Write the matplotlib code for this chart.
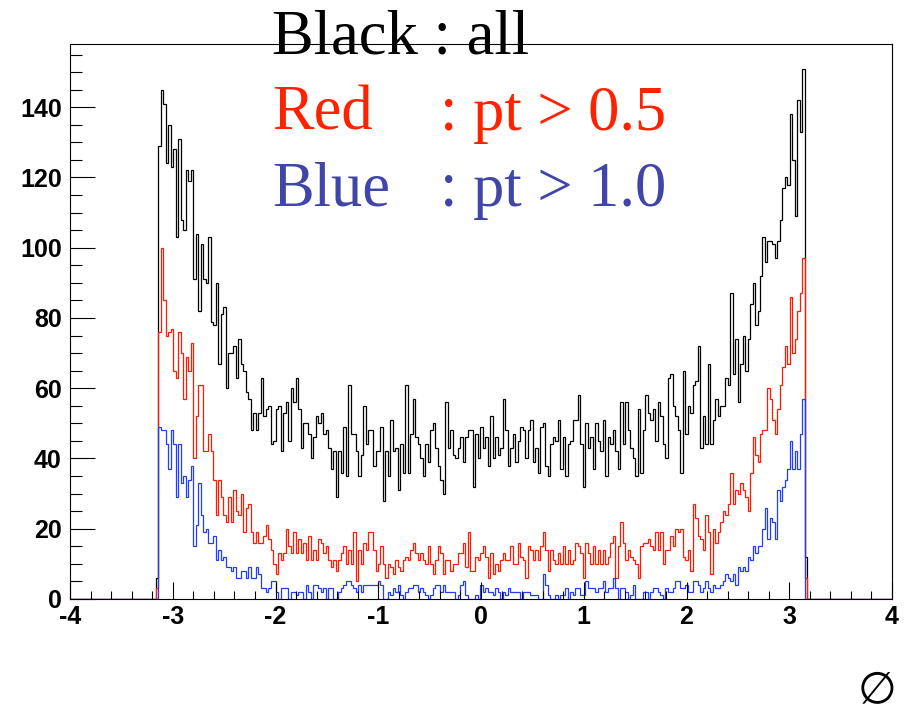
import matplotlib
matplotlib.use("Agg")
import matplotlib.pyplot as plt
import numpy as np
from matplotlib.ticker import MultipleLocator

# phi range that holds entries (outer edges of first/last filled bin)
phi_lo, phi_hi = -3.165, 3.177

# counts per bin (left to right)
black_counts = [
    6,
    129, 145, 141, 124, 135, 123, 128, 103, 131, 108, 105, 122, 119, 122, 91, 104, 82, 101, 91, 90,
    103, 79, 78, 90, 67, 81, 83, 60, 70, 70, 72, 63, 74, 67, 65, 59, 57, 48, 53, 48, 53,
    63, 52, 54, 55, 44, 45, 54, 55, 42, 53, 56, 45, 60, 56, 63, 54, 43, 50, 50, 47, 40, 46, 52, 50, 53,
    47, 48, 43, 37, 42, 29, 42, 36, 49, 35, 61, 47, 47, 42, 35, 41, 55,
    44, 48, 48, 38, 42, 42, 49, 28, 42, 35, 51, 42, 43, 31, 44, 36, 61, 36, 47, 57, 46, 44, 40, 35, 44,
    39, 48, 50, 43, 38, 34, 30, 56, 43, 48, 41, 40, 43, 46, 39, 46, 48,
    48, 32, 47, 40, 49, 43, 46, 38, 52, 40, 46, 41, 43, 57, 48, 38, 43, 47, 39, 45, 49, 48, 40, 48, 51,
    39, 43, 36, 49, 50, 38, 35, 44, 46, 45, 51, 37, 46, 35, 44, 45, 51,
    51, 58, 44, 32, 50, 43, 46, 37, 50, 45, 42, 51, 35, 46, 44, 48, 42, 37, 56, 44, 56, 48, 43, 40, 35,
    54, 36, 48, 58, 53, 51, 54, 45, 56, 52, 44, 40, 63, 64, 55, 52, 48,
    36, 65, 47, 55, 53, 61, 62, 72, 43, 52, 44, 67, 44, 51, 57, 52, 55, 55, 63, 61, 87, 64, 74, 56, 67,
    75, 65, 74, 84, 90, 78, 82, 92, 103, 96, 102, 102, 101, 97, 102, 108, 117, 120, 118, 138, 125, 109,
    142, 133, 151,
    12,
]

red_counts = [
    3,
    76, 100, 85, 75, 76, 77, 65, 63, 76, 70, 57, 69, 65, 73, 40, 52, 61, 61, 42, 42,
    47, 42, 34, 24, 34, 29, 24, 22, 29, 22, 31, 25, 24, 30, 19, 26, 27, 19, 16, 19, 16,
    16, 18, 21, 17, 14, 10, 7, 13, 11, 13, 20, 15, 13, 19, 13, 17, 13, 16, 11, 18, 11, 14, 11, 17, 16,
    13, 15, 11, 9, 11, 8, 11, 13, 15, 10, 14, 10, 19, 5, 14, 10, 16,
    14, 19, 19, 14, 8, 10, 15, 10, 6, 10, 9, 7, 11, 9, 8, 11, 12, 11, 14, 16, 13, 11, 13, 11, 10,
    15, 10, 7, 11, 15, 13, 7, 11, 11, 8, 10, 10, 13, 13, 16, 9, 19,
    8, 8, 12, 11, 13, 15, 12, 6, 13, 7, 10, 8, 11, 13, 11, 11, 15, 10, 10, 16, 12, 11, 6, 15, 14,
    11, 14, 11, 15, 19, 14, 8, 14, 11, 10, 13, 10, 15, 10, 14, 10, 11,
    16, 15, 13, 6, 16, 13, 10, 15, 10, 14, 10, 14, 10, 12, 16, 18, 6, 15, 22, 16, 11, 14, 12, 11, 10,
    6, 15, 16, 16, 17, 15, 14, 19, 14, 19, 10, 14, 14, 18, 15, 20, 19,
    20, 12, 11, 14, 8, 27, 23, 18, 17, 14, 24, 19, 7, 20, 16, 19, 22, 25, 24, 27, 36, 27, 31, 30, 33,
    31, 29, 25, 36, 46, 41, 39, 47, 48, 48, 60, 57, 51, 47, 54, 61, 66, 72, 67, 86, 70, 74, 82, 87, 97,
    6,
]

blue_counts = [
    0,
    49, 48, 48, 44, 37, 48, 44, 29, 44, 33, 35, 29, 34, 38, 15, 21, 33, 24, 19, 20,
    16, 16, 18, 11, 14, 11, 12, 9, 9, 8, 9, 6, 6, 8, 8, 6, 9, 6, 6, 9, 7,
    3, 3, 2, 3, 5, 5, 2, 0, 3, 3, 3, 0, 2, 2, 1, 2, 2, 0, 4, 2, 0, 4, 4, 3, 2,
    3, 0, 3, 3, 0, 0, 2, 3, 4, 5, 5, 4, 3, 2, 4, 2, 4,
    4, 4, 4, 4, 4, 5, 4, 0, 0, 2, 1, 3, 2, 4, 1, 0, 2, 3, 3, 4, 4, 2, 3, 2, 1,
    0, 1, 3, 4, 4, 2, 4, 2, 2, 2, 2, 0, 1, 4, 5, 1, 0,
    0, 0, 1, 0, 4, 2, 3, 2, 2, 1, 3, 2, 0, 2, 1, 3, 2, 2, 2, 2, 0, 2, 2, 2, 1,
    1, 1, 0, 0, 7, 4, 1, 0, 0, 1, 0, 1, 1, 3, 0, 2, 1,
    3, 3, 1, 1, 5, 3, 3, 3, 2, 3, 3, 5, 2, 3, 3, 6, 3, 0, 3, 3, 2, 0, 1, 4, 0,
    0, 0, 2, 2, 0, 2, 3, 3, 2, 1, 0, 3, 2, 2, 3, 5, 5,
    3, 3, 4, 2, 2, 5, 5, 4, 2, 3, 5, 3, 2, 4, 3, 3, 4, 5, 7, 6, 5, 7, 4, 9, 8,
    9, 8, 12, 11, 15, 13, 15, 15, 20, 26, 17, 23, 22, 17, 31, 28, 32, 34, 37, 45, 37, 42, 37, 47, 57,
    0,
]

labels = [("Black", ": all"), ("Red", ": pt > 0.5"), ("Blue", ": pt > 1.0")]

plt.rcParams["axes.unicode_minus"] = False

# histogram covers -4..4, empty outside the filled phi range
n = len(black_counts)
edges = np.concatenate([[-4.0], np.linspace(phi_lo, phi_hi, n + 1), [4.0]])


def padded(c):
    return np.concatenate([[0], c, [0]])


fig = plt.figure(figsize=(9.13, 7.17), dpi=100)
ax = fig.add_axes([70 / 913, 118 / 717, 822 / 913, 555 / 717])

ax.stairs(padded(black_counts), edges, color="black", lw=0.9, baseline=0)
ax.stairs(padded(red_counts), edges, color="#ff1a00", lw=0.9, baseline=0)
ax.stairs(padded(blue_counts), edges, color="#1f3cff", lw=0.9, baseline=0)

ax.set_xlim(-4, 4)
ax.set_ylim(0, 158)
ax.xaxis.set_major_locator(MultipleLocator(1))
ax.xaxis.set_minor_locator(MultipleLocator(0.2))
ax.yaxis.set_major_locator(MultipleLocator(20))
ax.yaxis.set_minor_locator(MultipleLocator(5))
ax.tick_params(which="both", direction="in", top=False, right=False, width=0.8)
ax.tick_params(axis="x", which="major", length=12, pad=4)
ax.tick_params(axis="x", which="minor", length=6)
ax.tick_params(axis="y", which="major", length=17.8, pad=6)
ax.tick_params(axis="y", which="minor", length=8.9)
for lab in ax.get_xticklabels() + ax.get_yticklabels():
    lab.set_fontfamily("Liberation Sans")
    lab.set_fontweight("bold")
    lab.set_fontsize(18)
for s in ax.spines.values():
    s.set_linewidth(0.8)

# legend-like text in Times style
serif = ["Liberation Serif", "DejaVu Serif"]
text_colors = ["black", "#ff2200", "#3f46a8"]
baselines = [53, 130, 206]
for (name, cut), col, yb in zip(labels, text_colors, baselines):
    fy = (717 - yb) / 717
    if name == "Black":
        fig.text(272 / 913, fy, name + " " + cut, color=col, fontsize=45,
                 family=serif, va="baseline", ha="left")
    else:
        fig.text(272 / 913, fy, name, color=col, fontsize=45,
                 family=serif, va="baseline", ha="left")
        fig.text(440 / 913, fy, cut, color=col, fontsize=45,
                 family=serif, va="baseline", ha="left")

# axis title, bottom right
fig.text(877 / 913, (717 - 690) / 717, "∅", fontsize=32,
         family=["DejaVu Serif", "DejaVu Sans"], ha="center", va="center")

fig.savefig("out.png", dpi=100)
